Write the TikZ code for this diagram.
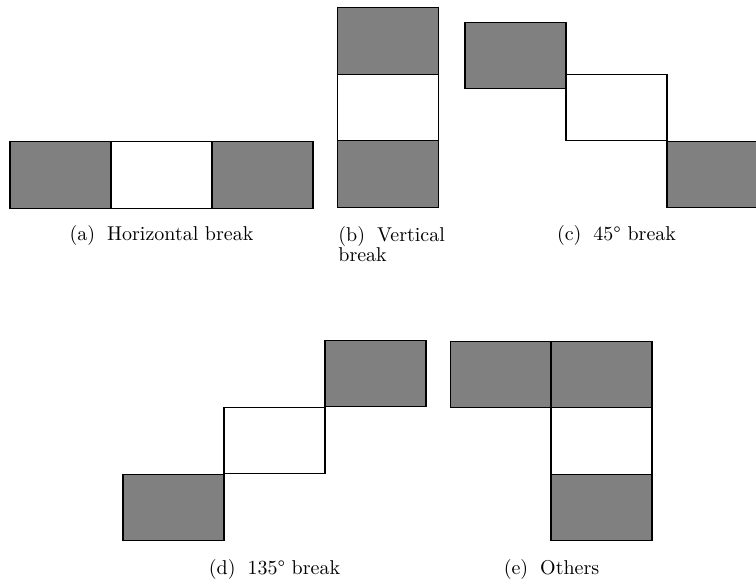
\documentclass[tikz,border=0pt]{standalone}
\usetikzlibrary{positioning}
\definecolor{cellgray}{HTML}{808080}
\tikzset{
  cell/.style={draw=black, line width=0.6pt, minimum width=50.5pt, minimum height=33.3pt, inner sep=0pt, outer sep=0pt},
  graycell/.style={cell, fill=cellgray},
  whitecell/.style={cell, fill=white},
  captext/.style={font=\fontsize{10}{10}\selectfont, inner sep=0pt}
}
\begin{document}
\begin{tikzpicture}[x=0.5pt, y=-0.5pt]
\useasboundingbox (0,0) rectangle (756,583);
% (a) horizontal break
\node[graycell]  (a1) at (60.5,175) {};
\node[whitecell] (a2) at (161.5,175) {};
\node[graycell]  (a3) at (262.5,175) {};
\node[captext, anchor=base] (capa) at (161.5,241) {(a)\hspace{6pt}Horizontal break};
% (b) vertical break
\node[graycell]  (b1) at (388,41) {};
\node[whitecell] (b2) at (388,107.5) {};
\node[graycell]  (b3) at (388,174) {};
\node[captext, anchor=base west] (capb1) at (338,242) {(b)\hspace{6pt}Vertical};
\node[captext, anchor=base west] (capb2) at (338,262) {break};
% (c) 45 degree break
\node[graycell]  (c1) at (515.5,55.5) {};
\node[whitecell] (c2) at (616.5,107.5) {};
\node[graycell]  (c3) at (717.5,174.5) {};
\node[captext, anchor=base] (capc) at (616.5,241) {(c)\hspace{6pt}45\textdegree{} break};
% (d) 135 degree break
\node[graycell]  (d1) at (173.5,507.5) {};
\node[whitecell] (d2) at (274.5,440.5) {};
\node[graycell]  (d3) at (375.5,373.5) {};
\node[captext, anchor=base] (capd) at (274.5,574) {(d)\hspace{6pt}135\textdegree{} break};
% (e) others
\node[graycell]  (e1) at (501,374.5) {};
\node[graycell]  (e2) at (601.5,374.5) {};
\node[whitecell] (e3) at (601.5,441) {};
\node[graycell]  (e4) at (601.5,507.5) {};
\node[captext, anchor=base] (cape) at (551.5,574) {(e)\hspace{6pt}Others};
\end{tikzpicture}
\end{document}
